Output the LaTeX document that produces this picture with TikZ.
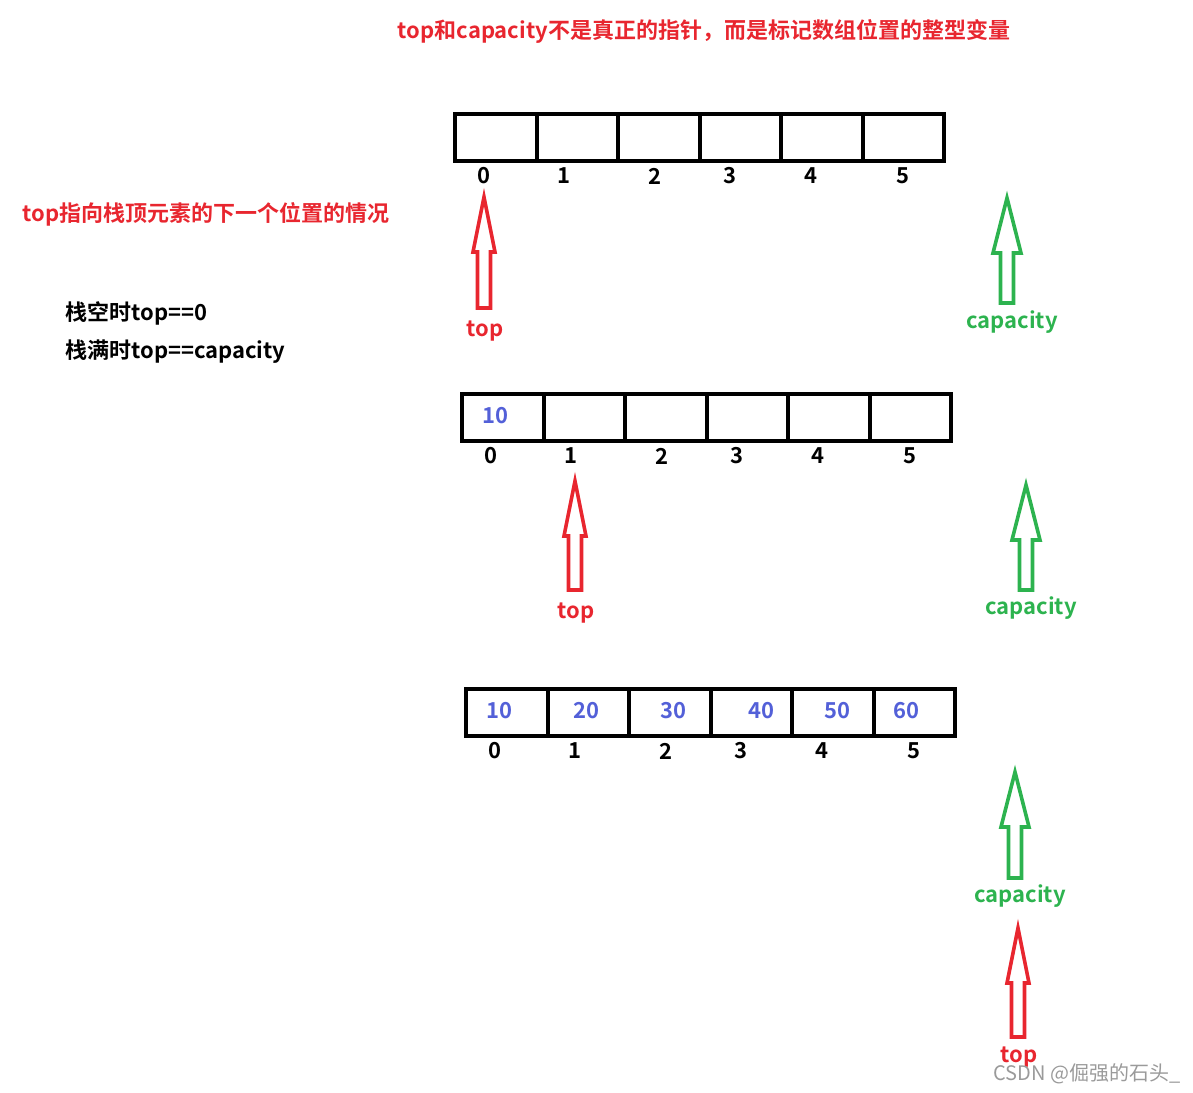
\documentclass[tikz,border=0pt]{standalone}
\usepackage{fontspec}
\setmainfont{Noto Sans CJK SC}[BoldFont={Noto Sans CJK SC Bold}]
\usetikzlibrary{calc}

% Hollow up arrow: x, tip y, bottom y, colour, head half width
\newcommand{\hollowArrow}[5]{%
    \draw[#4, line width=1.8pt, line join=miter]
        (#1,#2) -- (#1+#5,#2+55) -- (#1+6.5,#2+55) -- (#1+6.5,#3)
        -- (#1-6.5,#3) -- (#1-6.5,#2+55) -- (#1-#5,#2+55) -- cycle;
}

\begin{document}
\begin{tikzpicture}[x=0.5pt, y=-0.5pt]
    % Define colours
    \definecolor{topColour}{HTML}{E8262F}
    \definecolor{capColour}{HTML}{2DB34F}
    \definecolor{valColour}{HTML}{5360D8}
    \definecolor{markColour}{HTML}{9A9A9A}

    \tikzset{
        cell/.style={draw, line width=2pt, minimum width=40.75pt, minimum height=23.5pt, inner sep=0pt, anchor=north west},
        txt/.style={font=\bfseries\fontsize{11}{13}\selectfont, inner sep=0pt},
        index/.style={txt, text=black},
        value/.style={txt, text=valColour},
        topLabel/.style={txt, text=topColour},
        capLabel/.style={txt, text=capColour}
    }

    % Fix the picture size
    \useasboundingbox (0,0) rectangle (1193,1092);

    % Draw titles
    \node[topLabel] (title) at (704,31) {top和capacity不是真正的指针，而是标记数组位置的整型变量};
    \node[topLabel, anchor=west] (case) at (22,214) {top指向栈顶元素的下一个位置的情况};
    \node[index, anchor=west] (empty) at (65,313) {栈空时top==0};
    \node[index, anchor=west] (full) at (65,352) {栈满时top==capacity};

    % Draw the three arrays
    \foreach \n/\x/\y in {1/453/112, 2/460/392, 3/464/687} {
        \foreach \i in {0,...,5}
            \node[cell] (a\n c\i) at (\x+\i*81.5,\y) {};
        \foreach \i/\dx in {0/31, 1/111, 2/202, 3/277, 4/358, 5/450}
            \node[index] (a\n i\i) at (\x+\dx,\y+64) {\i};
    }

    % Values stored in the arrays
    \node[value] (a2v0) at (495,416) {10};
    \foreach \v/\px in {10/499, 20/586, 30/673, 40/761, 50/837, 60/906}
        \node[value] (a3v\v) at (\px,711) {\v};

    % Draw top arrows
    \hollowArrow{484}{197}{308}{topColour}{11}
    \node[topLabel] (top1) at (485,331) {top};
    \hollowArrow{575}{481}{590}{topColour}{11}
    \node[topLabel] (top2) at (576,613) {top};
    \hollowArrow{1018}{928}{1037}{topColour}{11}
    \node[topLabel] (top3) at (1019,1057) {top};

    % Draw capacity arrows
    \hollowArrow{1007}{198}{303}{capColour}{14}
    \node[capLabel] (cap1) at (1012,322) {capacity};
    \hollowArrow{1026}{485}{590}{capColour}{14}
    \node[capLabel] (cap2) at (1031,608) {capacity};
    \hollowArrow{1015}{772}{878}{capColour}{14}
    \node[capLabel] (cap3) at (1020,896) {capacity};

    % Watermark
    \node[text=markColour, font=\fontsize{10}{12}\selectfont, inner sep=0pt] (mark) at (1087,1074) {CSDN @倔强的石头\_};
\end{tikzpicture}
\end{document}
